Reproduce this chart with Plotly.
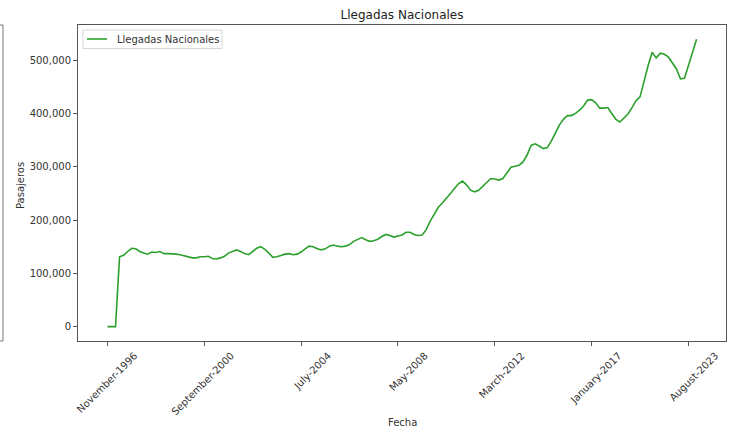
import plotly.graph_objects as go

# Monthly domestic arrivals (passengers), one value per observation
pasajeros = [
    0, 0, 0, 131000, 134000, 141000, 147000, 146000, 141000, 138000,
    136000, 140000, 139000, 141000, 137000, 137000, 137000, 136000, 135000, 133000,
    130000, 129000, 129000, 131000, 131000, 132000, 128000, 127000, 129000, 132000,
    138000, 141000, 144000, 141000, 137000, 135000, 141000, 147000, 150000, 145000,
    138000, 130000, 131000, 134000, 136000, 137000, 135000, 136000, 140000, 146000,
    151000, 150000, 146000, 144000, 146000, 151000, 153000, 151000, 150000, 151000,
    154000, 160000, 164000, 167000, 163000, 160000, 161000, 164000, 169000, 173000,
    171000, 168000, 170000, 172000, 177000, 177000, 173000, 171000, 172000, 182000,
    198000, 211000, 224000, 232000, 240000, 250000, 259000, 268000, 273000, 266000,
    256000, 253000, 256000, 264000, 272000, 278000, 277000, 275000, 278000, 288000,
    299000, 301000, 303000, 309000, 322000, 340000, 343000, 339000, 334000, 336000,
    348000, 363000, 378000, 389000, 396000, 396000, 400000, 406000, 414000, 425000,
    426000, 420000, 410000, 410000, 411000, 400000, 389000, 384000, 392000, 399000,
    411000, 424000, 431000, 462000, 490000, 515000, 504000, 513000, 511000, 506000,
    495000, 484000, 465000, 466000, 490000, 514000, 539000,
]
indice = list(range(len(pasajeros)))

serie = "Llegadas Nacionales"
tick_pos = [0, 24, 48, 72, 96, 120, 144]
tick_labels = [
    "November-1996", "September-2000", "July-2004", "May-2008",
    "March-2012", "January-2017", "August-2023",
]
y_ticks = [0, 100000, 200000, 300000, 400000, 500000]

W, H = 733, 432
L, R, T, B = 78, 7, 25, 91
PW, PH = W - L - R, H - T - B

n = len(pasajeros) - 1
ymax = max(pasajeros)
x_pad = 0.05 * n
y_pad = 0.05 * ymax

line_color = "#2ca02c"
axis_color = "#555555"
font = dict(family="DejaVu Sans", size=10, color="#333333")


def px_x(p):
    return (p - L) / PW


def px_y(p):
    return 1 - (p - T) / PH


fig = go.Figure()
fig.add_trace(go.Scatter(
    x=indice, y=pasajeros, mode="lines", name=serie, showlegend=False,
    line=dict(color=line_color, width=1.6),
))

shapes = []
# right edge of the neighbouring panel, cut off at the left border
edge_x = px_x(3)
for x0, x1, y0, y1 in [(edge_x, edge_x, 0, 1), (px_x(0), edge_x, 1, 1), (px_x(0), edge_x, 0, 0)]:
    shapes.append(dict(type="line", xref="paper", yref="paper",
                       x0=x0, x1=x1, y0=y0, y1=y1,
                       line=dict(color="#777777", width=1)))

# legend box with a line sample
shapes.append(dict(type="rect", xref="paper", yref="paper",
                   x0=px_x(83), x1=px_x(222), y0=px_y(48.5), y1=px_y(30),
                   fillcolor="rgba(255,255,255,0.8)",
                   line=dict(color="#d6d6d6", width=1)))
shapes.append(dict(type="line", xref="paper", yref="paper",
                   x0=px_x(87), x1=px_x(107), y0=px_y(39), y1=px_y(39),
                   line=dict(color=line_color, width=1.6)))

annotations = [
    dict(text=serie, xref="paper", yref="paper", x=px_x(115), y=px_y(39.5),
         xanchor="left", yanchor="middle", showarrow=False,
         font=dict(family="DejaVu Sans", size=10, color="#333333")),
    dict(text="Fecha", xref="paper", yref="paper", x=0.5, y=px_y(422),
         xanchor="center", yanchor="middle", showarrow=False, font=font),
    dict(text="Pasajeros", xref="paper", yref="paper", x=px_x(20), y=px_y(186),
         xanchor="center", yanchor="middle", textangle=-90, showarrow=False,
         font=font),
]

fig.update_layout(
    width=W, height=H,
    margin=dict(l=L, r=R, t=T, b=B),
    paper_bgcolor="white", plot_bgcolor="white",
    font=font,
    title=dict(text=serie, x=0.5, xref="paper",
               y=1 - 15 / H, yanchor="middle",
               font=dict(family="DejaVu Sans", size=12, color="#222222")),
    showlegend=False,
    shapes=shapes,
    annotations=annotations,
)

fig.update_xaxes(
    range=[-x_pad, n + x_pad], automargin=False,
    tickmode="array", tickvals=tick_pos, ticktext=tick_labels,
    tickangle=-45, ticklabelshift=27,
    showgrid=False, zeroline=False,
    showline=True, mirror=True, linecolor=axis_color, linewidth=1,
    ticks="outside", ticklen=4, tickcolor=axis_color,
)
fig.update_yaxes(
    range=[-y_pad, ymax + y_pad], automargin=False,
    tickmode="array", tickvals=y_ticks, tickformat=",d",
    showgrid=False, zeroline=False,
    showline=True, mirror=True, linecolor=axis_color, linewidth=1,
    ticks="outside", ticklen=4, tickcolor=axis_color,
)

fig.write_html("out.html")
